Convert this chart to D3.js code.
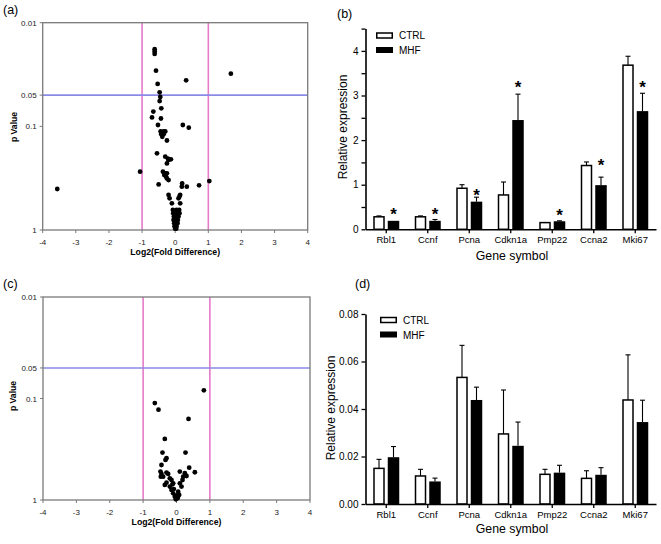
<!DOCTYPE html>
<html><head><meta charset="utf-8">
<script src="https://cdn.jsdelivr.net/npm/d3@7"></script>
<style>
body{margin:0;background:#fff}
svg{display:block}
text{font-family:"Liberation Sans",Arial,sans-serif}
</style>
</head><body>
<svg id="c" width="661" height="544"></svg>
<script>
// ---------- DATA ----------
const panelLabels = ["(a)", "(b)", "(c)", "(d)"];
const volcanoXTicks = [-4, -3, -2, -1, 0, 1, 2, 3, 4];
const volcanoYTicks = [0.01, 0.05, 0.1, 1];
const volcanoYTickLabels = ["0.01", "0.05", "0.1", "1"];
const foldThresholds = [-1, 1];
const pThreshold = 0.05;
const volcanoXTitle = "Log2(Fold Difference)";
const volcanoYTitle = "p Value";

// panel (a): [log2 fold difference, p value]
const volcanoA = [
  [-0.62,0.018],[-0.62,0.019],[-0.62,0.020],
  [-0.58,0.029],[0.33,0.036],[1.68,0.031],[-0.53,0.039],
  [-0.47,0.047],[-0.45,0.052],[-0.47,0.057],
  [-0.42,0.067],[-0.66,0.072],[-0.70,0.082],[-0.43,0.084],
  [-0.52,0.097],[0.23,0.097],[0.41,0.103],
  [-0.44,0.112],[-0.35,0.112],[-0.30,0.112],[-0.42,0.119],[-0.35,0.119],[-0.39,0.126],[-0.40,0.116],
  [-0.25,0.137],[-0.55,0.182],
  [-0.30,0.196],[-0.20,0.211],[-0.13,0.208],[-0.25,0.228],[-0.22,0.205],
  [-1.06,0.274],
  [-0.37,0.274],[-0.33,0.295],[-0.25,0.284],[-0.30,0.285],
  [-0.25,0.318],[-0.20,0.330],[-0.28,0.305],
  [-0.50,0.363],
  [0.21,0.355],[0.20,0.382],[0.35,0.382],[0.72,0.371],[1.03,0.337],
  [-3.56,0.402],
  [-0.20,0.459],[-0.17,0.495],[-0.10,0.553],[0.10,0.495],[0.15,0.459],[0.13,0.475],[0.15,0.553],
  [-0.07,0.64],[0.04,0.64],[0.12,0.64],
  [-0.06,0.69],[0.00,0.69],[0.07,0.69],[0.13,0.69],
  [-0.04,0.74],[0.04,0.74],[0.10,0.74],
  [-0.05,0.80],[0.02,0.80],[0.08,0.80],
  [-0.03,0.86],[0.03,0.86],[0.07,0.86],
  [-0.02,0.92],[0.04,0.92],
  [0.00,0.97],[0.03,0.97]
];

// panel (c): [log2 fold difference, p value]
const volcanoC = [
  [0.82,0.083],[-0.65,0.111],[-0.54,0.129],[0.36,0.159],[-0.35,0.25],
  [-0.42,0.341],[0.27,0.341],[-0.30,0.388],[-0.33,0.403],[-0.45,0.452],
  [0.38,0.480],[0.55,0.533],[0.10,0.525],[0.25,0.545],[0.30,0.58],
  [-0.48,0.525],[-0.45,0.553],[-0.40,0.589],[-0.30,0.537],[-0.25,0.553],[-0.47,0.589],
  [-0.20,0.611],[-0.15,0.635],[-0.10,0.685],[-0.30,0.675],[-0.35,0.711],
  [-0.20,0.738],[-0.15,0.796],[-0.10,0.859],[-0.05,0.927],[-0.02,0.985],
  [0.10,0.685],[0.15,0.738],[0.18,0.635],[0.20,0.589],[0.05,0.827],[0.08,0.892],[0.02,0.963],
  [-0.08,0.78],[0.00,0.90],[0.04,0.95],[-0.12,0.70]
];

const genes = ["Rbl1", "Ccnf", "Pcna", "Cdkn1a", "Pmp22", "Ccna2", "Mki67"];
const seriesNames = ["CTRL", "MHF"];
const barXTitle = "Gene symbol";
const barYTitle = "Relative expression";

// panel (b)
const ctrlB    = [0.28, 0.28, 0.92, 0.77, 0.15, 1.43, 3.68];
const ctrlErrB = [0.02, 0.02, 0.08, 0.29, 0.00, 0.08, 0.20];
const mhfB     = [0.19, 0.19, 0.62, 2.45, 0.18, 0.99, 2.65];
const mhfErrB  = [0.00, 0.03, 0.10, 0.58, 0.01, 0.18, 0.40];
const starLevelB = [0.42, 0.42, 0.85, 3.26, 0.40, 1.52, 3.26];
const yTicksB = [0, 0.5, 1, 1.5, 2, 2.5, 3, 3.5, 4, 4.5];

// panel (d)
const ctrlD    = [0.0150, 0.0118, 0.0533, 0.0295, 0.0125, 0.0108, 0.0438];
const ctrlErrD = [0.0038, 0.0028, 0.0135, 0.0185, 0.0021, 0.0032, 0.0190];
const mhfD     = [0.0197, 0.0095, 0.0438, 0.0245, 0.0132, 0.0123, 0.0345];
const mhfErrD  = [0.0045, 0.0014, 0.0054, 0.0100, 0.0031, 0.0030, 0.0092];
const yTicksD = [0, 0.02, 0.04, 0.06, 0.08];

// ---------- DRAW ----------
const svg = d3.select("#c");
const FONT = '"Liberation Sans",Arial,sans-serif';

function volcano(box, pts) {
  const x = d3.scaleLinear().domain([-4, 4]).range([box.l, box.r]);
  const y = d3.scaleLog().domain([1, 0.01]).range([box.b, box.t]);
  const g = svg.append("g");

  // thresholds
  g.selectAll(".fc").data(foldThresholds).join("line")
    .attr("x1", d => x(d)).attr("x2", d => x(d))
    .attr("y1", box.t).attr("y2", box.b)
    .attr("stroke", "#e57ac8").attr("stroke-width", 1.6);
  g.append("line")
    .attr("x1", box.l).attr("x2", box.r)
    .attr("y1", y(pThreshold)).attr("y2", y(pThreshold))
    .attr("stroke", "#8a8ae6").attr("stroke-width", 1.6);

  // frame
  g.append("rect")
    .attr("x", box.l).attr("y", box.t)
    .attr("width", box.r - box.l).attr("height", box.b - box.t)
    .attr("fill", "none").attr("stroke", "#7a7a7a").attr("stroke-width", 1.3);

  // x ticks
  g.selectAll(".xt").data(volcanoXTicks).join("line")
    .attr("x1", d => x(d)).attr("x2", d => x(d))
    .attr("y1", box.b).attr("y2", box.b + 3)
    .attr("stroke", "#7a7a7a").attr("stroke-width", 1);
  g.selectAll(".xl").data(volcanoXTicks).join("text")
    .attr("x", d => x(d)).attr("y", box.b + 14.5)
    .attr("text-anchor", "middle").attr("font-size", 8).attr("fill", "#222")
    .text(d => d);
  // y ticks
  g.selectAll(".yt").data(volcanoYTicks).join("line")
    .attr("x1", box.l - 3).attr("x2", box.l)
    .attr("y1", d => y(d)).attr("y2", d => y(d))
    .attr("stroke", "#7a7a7a").attr("stroke-width", 1);
  g.selectAll(".yl").data(volcanoYTicks).join("text")
    .attr("x", box.l - 6).attr("y", d => y(d) + 3)
    .attr("text-anchor", "end").attr("font-size", 8).attr("fill", "#222")
    .text((d, i) => volcanoYTickLabels[i]);

  // titles
  g.append("text").attr("x", (box.l + box.r) / 2).attr("y", box.b + 25)
    .attr("text-anchor", "middle").attr("font-size", 8.7).attr("font-weight", "bold")
    .text(volcanoXTitle);
  g.append("text")
    .attr("transform", `translate(${box.yTitleX},${box.yTitleY}) rotate(-90)`)
    .attr("text-anchor", "middle").attr("font-size", 8.6).attr("font-weight", "bold")
    .text(volcanoYTitle);

  // points
  g.selectAll("circle").data(pts).join("circle")
    .attr("cx", d => x(d[0])).attr("cy", d => y(d[1]))
    .attr("r", 2.4).attr("fill", "#000");
}

function barPanel(o) {
  const x = d3.scaleBand().domain(genes).range([o.left, o.right]);
  const y = d3.scaleLinear().domain(o.domain).range([o.y0, o.yTop]);
  const g = svg.append("g");
  const rows = genes.map((gn, i) => ({
    gene: gn, ctrl: o.ctrl[i], ctrlErr: o.ctrlErr[i], mhf: o.mhf[i], mhfErr: o.mhfErr[i],
    star: o.star ? o.star[i] : null
  }));
  const bw = 11.5, gap = 3;
  const cx = d => x(d.gene) + x.bandwidth() / 2;
  const cCtrl = d => cx(d) - gap / 2 - bw / 2;
  const cMhf = d => cx(d) + gap / 2 + bw / 2;

  // error bars
  const errs = [];
  rows.forEach(d => {
    errs.push({ x: cCtrl(d), v: d.ctrl, e: d.ctrlErr });
    errs.push({ x: cMhf(d), v: d.mhf, e: d.mhfErr });
  });
  const eg = g.selectAll(".err").data(errs.filter(d => d.e > 0)).join("g");
  eg.append("line").attr("x1", d => d.x).attr("x2", d => d.x)
    .attr("y1", d => y(d.v)).attr("y2", d => y(d.v + d.e))
    .attr("stroke", "#000").attr("stroke-width", 1.1);
  eg.append("line").attr("x1", d => d.x - 2.5).attr("x2", d => d.x + 2.5)
    .attr("y1", d => y(d.v + d.e)).attr("y2", d => y(d.v + d.e))
    .attr("stroke", "#000").attr("stroke-width", 1.1);

  // bars
  g.selectAll(".ctrl").data(rows).join("rect")
    .attr("x", d => cCtrl(d) - bw / 2 + 0.75).attr("width", bw - 1.5)
    .attr("y", d => y(d.ctrl)).attr("height", d => y(0) - y(d.ctrl))
    .attr("fill", "#fff").attr("stroke", "#000").attr("stroke-width", 1.5);
  g.selectAll(".mhf").data(rows).join("rect")
    .attr("x", d => cMhf(d) - bw / 2).attr("width", bw)
    .attr("y", d => y(d.mhf)).attr("height", d => y(0) - y(d.mhf))
    .attr("fill", "#000");

  // stars
  if (o.star) {
    g.selectAll(".star").data(rows).join("text")
      .attr("x", d => cMhf(d)).attr("y", d => y(d.star) + 9.5)
      .attr("text-anchor", "middle").attr("font-size", 17).attr("font-weight", "bold")
      .text("*");
  }

  // axes
  const ya = g.append("g").attr("transform", `translate(${o.left},0)`)
    .call(d3.axisLeft(y).tickValues(o.yTicks).tickSize(4).tickSizeOuter(0).tickFormat(o.fmt));
  const xa = g.append("g").attr("transform", `translate(0,${o.y0})`)
    .call(d3.axisBottom(x).tickSize(4).tickSizeOuter(0));
  [ya, xa].forEach(a => {
    a.attr("font-family", FONT);
    a.select(".domain").attr("stroke-width", 1.6);
    a.selectAll(".tick line").attr("stroke-width", 1.3);
  });
  ya.selectAll("text").attr("font-size", 10);
  xa.selectAll("text").attr("font-size", 9.5);

  // legend
  const lg = g.append("g");
  lg.append("rect").attr("x", o.legX + 0.75).attr("y", o.legY).attr("width", 15.5).attr("height", 5)
    .attr("fill", "#fff").attr("stroke", "#000").attr("stroke-width", 1.5);
  lg.append("rect").attr("x", o.legX).attr("y", o.legY + 14).attr("width", 17).attr("height", 6)
    .attr("fill", "#000");
  lg.selectAll("text").data(seriesNames).join("text")
    .attr("x", o.legX + 23).attr("y", (d, i) => o.legY + 6 + i * 15)
    .attr("font-size", 10).text(d => d);

  // titles
  g.append("text").attr("x", 512).attr("y", o.xTitleY)
    .attr("text-anchor", "middle").attr("font-size", 12.3).text(barXTitle);
  g.append("text")
    .attr("transform", `translate(${o.yTitleX},${o.yTitleY}) rotate(-90)`)
    .attr("text-anchor", "middle").attr("font-size", 12).text(barYTitle);
}

volcano({ l: 42.7, r: 307.7, t: 22.7, b: 230, yTitleX: 16.5, yTitleY: 127 }, volcanoA);
volcano({ l: 43, r: 310, t: 297, b: 500, yTitleX: 15.5, yTitleY: 396 }, volcanoC);

barPanel({
  left: 365.5, right: 365.5 + 7 * 41.5, y0: 229.3, yTop: 229.3 - 4.5 * 44.6, domain: [0, 4.5],
  ctrl: ctrlB, ctrlErr: ctrlErrB, mhf: mhfB, mhfErr: mhfErrB, star: starLevelB,
  yTicks: yTicksB, fmt: d => Number.isInteger(d) ? d : "",
  legX: 376, legY: 33, xTitleY: 260, yTitleX: 347, yTitleY: 127
});
barPanel({
  left: 365.5, right: 365.5 + 7 * 41.5, y0: 504, yTop: 314, domain: [0, 0.08],
  ctrl: ctrlD, ctrlErr: ctrlErrD, mhf: mhfD, mhfErr: mhfErrD, star: null,
  yTicks: yTicksD, fmt: d3.format(".2f"),
  legX: 380, legY: 317.5, xTitleY: 533, yTitleX: 335, yTitleY: 408
});

// panel labels
const labelPos = [[3, 14], [337, 17.5], [3, 288], [355, 287.5]];
svg.selectAll(".plabel").data(panelLabels).join("text")
  .attr("x", (d, i) => labelPos[i][0]).attr("y", (d, i) => labelPos[i][1])
  .attr("font-size", 12.5).text(d => d);
</script>
</body></html>
